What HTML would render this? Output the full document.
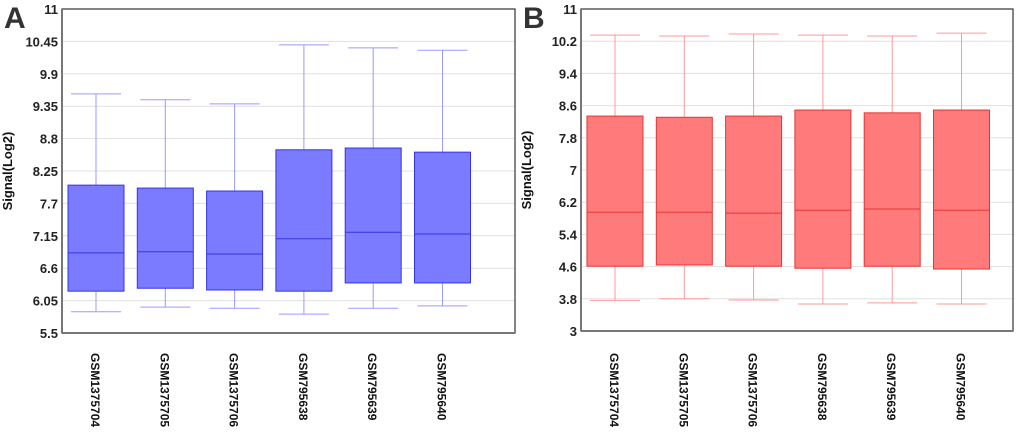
<!DOCTYPE html>
<html><head><meta charset="utf-8"><style>
body{margin:0;background:#fff;width:1020px;height:434px;overflow:hidden}
svg{font-family:"Liberation Sans",Arial,sans-serif;font-weight:bold}
</style></head><body>
<svg id="s" width="1020" height="434"></svg>
<script>
const samples=["GSM1375704","GSM1375705","GSM1375706","GSM795638","GSM795639","GSM795640"];
const aMax=[9.56,9.46,9.39,10.39,10.34,10.30];
const aQ3=[8.01,7.96,7.91,8.61,8.64,8.57];
const aMed=[6.86,6.88,6.84,7.10,7.21,7.18];
const aQ1=[6.21,6.26,6.23,6.21,6.35,6.35];
const aMin=[5.86,5.94,5.92,5.82,5.92,5.96];
const aTicks=["5.5","6.05","6.6","7.15","7.7","8.25","8.8","9.35","9.9","10.45","11"];
const bMax=[10.35,10.33,10.38,10.35,10.33,10.40];
const bQ3=[8.34,8.31,8.34,8.49,8.42,8.49];
const bMed=[5.95,5.95,5.93,6.00,6.03,6.00];
const bQ1=[4.61,4.64,4.61,4.56,4.61,4.54];
const bMin=[3.76,3.80,3.77,3.67,3.70,3.67];
const bTicks=["3","3.8","4.6","5.4","6.2","7","7.8","8.6","9.4","10.2","11"];
const NS="http://www.w3.org/2000/svg";
const svg=document.getElementById('s');
function mk(t,a,p){const e=document.createElementNS(NS,t);for(const k in a)e.setAttribute(k,a[k]);(p||svg).appendChild(e);return e;}
function panel(P){
  const g=mk('g',{});
  
  
  const y=v=>P.y1-(v-P.lo)/(P.hi-P.lo)*(P.y1-P.y0);
  const x=i=>P.x0+34+i*69.3;
  P.ticks.forEach(t=>{const v=parseFloat(t),yy=y(v);
    if(v>P.lo&&v<P.hi){const l=mk('line',{x1:P.x0,x2:P.x1,y1:yy,y2:yy,stroke:'#e0e0e0','stroke-width':1},g);
      }
    const tx=mk('text',{x:P.x0-4,y:yy+5,'text-anchor':'end','font-size':13,fill:'#222'},g);
    tx.textContent=t;});
  samples.forEach((s,i)=>{const c=x(i);
    const bg=mk('g',{},g);
    
    
    mk('line',{x1:c,x2:c,y1:y(P.max[i]),y2:y(P.q3[i]),stroke:P.wc},bg);
    mk('line',{x1:c,x2:c,y1:y(P.q1[i]),y2:y(P.min[i]),stroke:P.wc},bg);
    mk('line',{x1:c-25,x2:c+25,y1:y(P.max[i]),y2:y(P.max[i]),stroke:P.wc},bg);
    mk('line',{x1:c-25,x2:c+25,y1:y(P.min[i]),y2:y(P.min[i]),stroke:P.wc},bg);
    mk('rect',{x:c-28,y:y(P.q3[i]),width:56,height:y(P.q1[i])-y(P.q3[i]),fill:P.fill,stroke:P.stroke,'stroke-width':1},bg);
    mk('line',{x1:c-28,x2:c+28,y1:y(P.med[i]),y2:y(P.med[i]),stroke:P.stroke},bg);
    const t=mk('text',{x:0,y:0,transform:`translate(${c-5},353) rotate(90)`,'font-size':12,fill:'#111'},g);
    t.textContent=s;});
  const fr=mk('rect',{x:P.x0,y:P.y0,width:P.x1-P.x0,height:P.y1-P.y0,fill:'none',stroke:'#333','stroke-width':1.2},g);
  
  mk('line',{x1:P.x0,x2:P.x0,y1:P.y0,y2:P.y1,stroke:'#777','stroke-width':2},g);
  mk('line',{x1:P.x0,x2:P.x1,y1:P.y1,y2:P.y1,stroke:'#777','stroke-width':2},g);
  const yt=mk('text',{transform:`translate(${P.x0-50},${(P.y0+P.y1)/2}) rotate(-90)`,'text-anchor':'middle','font-size':13,fill:'#111'},g);
  yt.textContent='Signal(Log2)';
  const lb=mk('text',{x:P.x0-58,y:28,'font-size':30,fill:'#333'},g);
  lb.textContent=P.id;
}
panel({id:'A',x0:62,x1:515,y0:9,y1:333,lo:5.5,hi:11,ticks:aTicks,max:aMax,q3:aQ3,med:aMed,q1:aQ1,min:aMin,fill:'#7b7bff',stroke:'#3434e6',wc:'#9a9aff'});
panel({id:'B',x0:581,x1:1013,y0:9,y1:331,lo:3,hi:11,ticks:bTicks,max:bMax,q3:bQ3,med:bMed,q1:bQ1,min:bMin,fill:'#ff7b7b',stroke:'#e63434',wc:'#ff9a9a'});
</script>
</body></html>
